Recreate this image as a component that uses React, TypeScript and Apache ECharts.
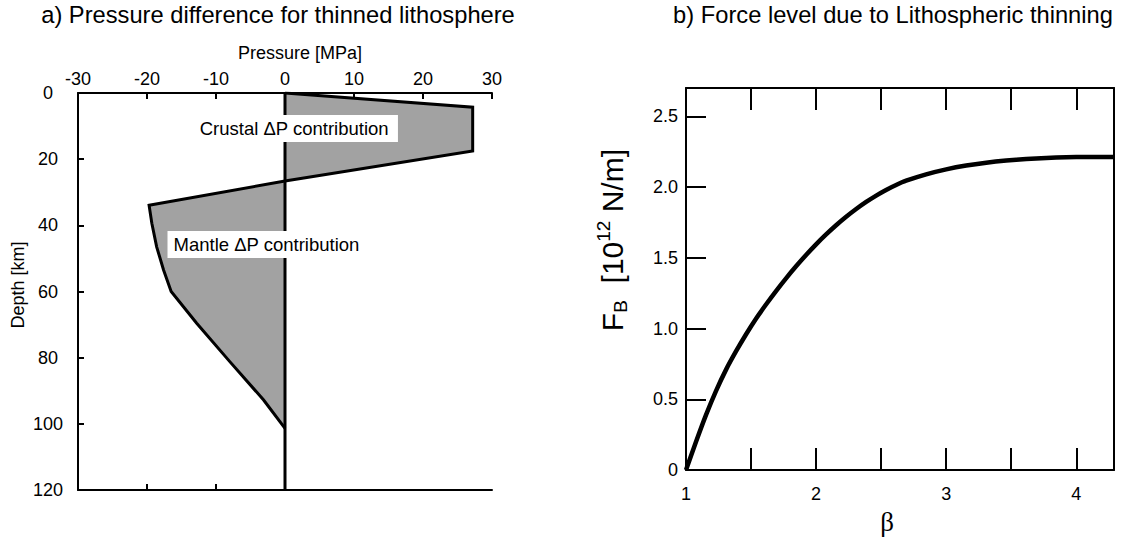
import React, { useEffect, useRef } from 'react';
import * as echarts from 'echarts';

// ---------- data ----------
// Panel a: pressure difference profile, [pressure MPa] vs [depth km]
const profilePressure = [0, 27.2, 27.2, 0, -19.7, -19.3, -18.6, -17.6, -16.5, -12.8, -8.0, -3.1, 0];
const profileDepth = [0, 4.3, 17.5, 26.6, 33.9, 39.4, 46.5, 53.5, 60.0, 69.6, 81.2, 92.8, 101.4];
const zeroLineDepth = [0, 120];
const zeroLinePressure = [0, 0];

// Panel b: force level vs beta
const beta = [
  1.0, 1.077, 1.154, 1.231, 1.308, 1.385, 1.462, 1.538, 1.615, 1.692, 1.769, 1.846, 1.923, 2.0, 2.077,
  2.154, 2.231, 2.308, 2.385, 2.462, 2.538, 2.615, 2.692, 2.846, 3.0, 3.154, 3.308, 3.462, 3.615, 3.769,
  3.923, 4.077, 4.29,
];
const forceLevel = [
  0, 0.2, 0.39, 0.56, 0.71, 0.84, 0.96, 1.07, 1.17, 1.265, 1.355, 1.44, 1.52, 1.595, 1.665, 1.73, 1.79,
  1.845, 1.895, 1.94, 1.98, 2.015, 2.045, 2.09, 2.125, 2.152, 2.172, 2.187, 2.198, 2.206, 2.211, 2.213,
  2.212,
];

// Annotation texts (anchored in data coordinates of panel a)
const annotationTexts = ['Crustal \u0394P contribution', 'Mantle \u0394P contribution'];
const annotationPressure = [-13.3, -17.1];
const annotationDepth = [10.7, 45.8];

const titleA = 'a) Pressure difference for thinned lithosphere';
const titleB = 'b) Force level due to Lithospheric thinning';

const FONT = '"Liberation Sans", Arial, Helvetica, sans-serif';
const BLACK = '#000';

export default function App() {
  const ref = useRef<HTMLDivElement>(null);

  useEffect(() => {
    if (!ref.current) return;
    const chart = echarts.init(ref.current, undefined, { renderer: 'svg' });

    const lineStyle = { color: BLACK, width: 2 };
    const profile = profilePressure.map((p, i) => [p, profileDepth[i]]);

    const option: any = {
      animation: false,
      backgroundColor: '#fff',
      textStyle: { fontFamily: FONT, color: BLACK },
      graphic: [
        {
          type: 'text',
          x: 278,
          y: 15,
          style: {
            text: titleA,
            fill: BLACK,
            font: `23.7px ${FONT}`,
            align: 'center',
            verticalAlign: 'middle',
            textAlign: 'center',
            textVerticalAlign: 'middle',
          },
        },
        {
          type: 'text',
          x: 893,
          y: 15,
          style: {
            text: titleB,
            fill: BLACK,
            font: `23.7px ${FONT}`,
            align: 'center',
            verticalAlign: 'middle',
            textAlign: 'center',
            textVerticalAlign: 'middle',
          },
        },
      ],
      grid: [
        { left: 78, top: 93, width: 414, height: 397, containLabel: false },
        { left: 686, top: 88, width: 428, height: 400, containLabel: false },
      ],
      xAxis: [
        {
          gridIndex: 0,
          type: 'value',
          position: 'top',
          min: -30,
          max: 30,
          interval: 10,
          axisLine: { show: true, onZero: false, lineStyle },
          axisTick: { show: true, inside: true, length: 6, lineStyle },
          axisLabel: { color: BLACK, fontSize: 18, margin: 5, fontFamily: FONT },
          splitLine: { show: false },
          name: 'Pressure [MPa]',
          nameLocation: 'middle',
          nameGap: 31,
          nameTextStyle: { color: BLACK, fontSize: 18, fontFamily: FONT, padding: [0, 0, 0, 30] },
        },
        {
          gridIndex: 0,
          type: 'value',
          position: 'bottom',
          min: -30,
          max: 30,
          interval: 10,
          axisLine: { show: true, onZero: false, lineStyle },
          axisTick: { show: true, inside: true, length: 6, lineStyle, customValues: [-20, -10] },
          axisLabel: { show: false },
          splitLine: { show: false },
        },
        {
          gridIndex: 1,
          type: 'value',
          position: 'bottom',
          min: 1,
          max: 4.29,
          interval: 0.5,
          axisLine: { show: true, onZero: false, lineStyle },
          axisTick: { show: true, inside: true, length: 22, lineStyle },
          axisLabel: {
            color: BLACK,
            fontSize: 18,
            margin: 15,
            fontFamily: FONT,
            showMaxLabel: false,
            formatter: (v: number) => (Math.abs(v - Math.round(v)) < 1e-6 ? String(Math.round(v)) : ''),
          },
          splitLine: { show: false },
          name: '\u03b2',
          nameLocation: 'middle',
          nameGap: 20,
          nameTextStyle: {
            color: BLACK,
            fontSize: 27,
            fontFamily: '"Liberation Serif", "DejaVu Serif", serif',
            padding: [0, 26, 0, 0],
          },
        },
        {
          gridIndex: 1,
          type: 'value',
          position: 'top',
          min: 1,
          max: 4.29,
          interval: 0.5,
          axisLine: { show: true, onZero: false, lineStyle },
          axisTick: { show: true, inside: true, length: 22, lineStyle },
          axisLabel: { show: false },
          splitLine: { show: false },
        },
      ],
      yAxis: [
        {
          gridIndex: 0,
          type: 'value',
          position: 'left',
          inverse: true,
          min: 0,
          max: 120,
          interval: 20,
          axisLine: { show: true, onZero: false, lineStyle },
          axisTick: { show: true, inside: true, length: 6, lineStyle },
          axisLabel: { color: BLACK, fontSize: 18, margin: 30, align: 'center', fontFamily: FONT },
          splitLine: { show: false },
          name: 'Depth [km]',
          nameLocation: 'middle',
          nameRotate: 90,
          nameGap: 51,
          nameTextStyle: { color: BLACK, fontSize: 18, fontFamily: FONT, padding: [0, 0, 0, 13] },
        },
        {
          gridIndex: 1,
          type: 'value',
          position: 'left',
          min: 0,
          max: 2.7,
          interval: 0.5,
          axisLine: { show: true, onZero: false, lineStyle },
          axisTick: { show: true, inside: true, length: 20, lineStyle },
          axisLabel: {
            color: BLACK,
            fontSize: 18,
            margin: 8,
            fontFamily: FONT,
            showMaxLabel: false,
            formatter: (v: number) => {
              if (Math.abs(v) < 1e-9) return '0';
              return Math.abs(v * 2 - Math.round(v * 2)) < 1e-6 ? v.toFixed(1) : '';
            },
          },
          splitLine: { show: false },
          name: '{f|F}{sub|B}{f|  [10}{sup|12}{f| N/m]}',
          nameLocation: 'middle',
          nameRotate: 90,
          nameGap: 56,
          nameTextStyle: {
            color: BLACK,
            fontFamily: FONT,
            fontSize: 30,
            padding: [0, 0, 0, 78],
            rich: {
              f: { fontSize: 30, lineHeight: 36, fontFamily: FONT, color: BLACK },
              sub: { fontSize: 19, lineHeight: 24, verticalAlign: 'bottom', fontFamily: FONT, color: BLACK },
              sup: { fontSize: 19, lineHeight: 19, verticalAlign: 'top', fontFamily: FONT, color: BLACK },
            },
          },
        },
        {
          gridIndex: 1,
          type: 'value',
          position: 'right',
          min: 0,
          max: 2.7,
          axisLine: { show: true, onZero: false, lineStyle },
          axisTick: { show: false },
          axisLabel: { show: false },
          splitLine: { show: false },
        },
      ],
      series: [
        {
          type: 'custom',
          xAxisIndex: 0,
          yAxisIndex: 0,
          silent: true,
          z: 1,
          data: profile,
          renderItem: (params: any, api: any) => {
            if (params.dataIndex !== 0) return { type: 'group', children: [] };
            const pts = profile.map((d) => api.coord(d));
            return {
              type: 'polygon',
              shape: { points: pts },
              style: { fill: '#a2a2a2', stroke: 'none' },
            };
          },
        },
        {
          type: 'line',
          xAxisIndex: 0,
          yAxisIndex: 0,
          z: 3,
          silent: true,
          showSymbol: false,
          symbol: 'none',
          data: profile,
          lineStyle: { color: BLACK, width: 3, join: 'miter' },
        },
        {
          type: 'line',
          xAxisIndex: 0,
          yAxisIndex: 0,
          z: 3,
          silent: true,
          showSymbol: false,
          symbol: 'none',
          data: zeroLinePressure.map((p, i) => [p, zeroLineDepth[i]]),
          lineStyle: { color: BLACK, width: 3 },
        },
        {
          type: 'scatter',
          xAxisIndex: 0,
          yAxisIndex: 0,
          z: 10,
          silent: true,
          symbolSize: 1,
          itemStyle: { color: 'rgba(0,0,0,0)', opacity: 1 },
          data: annotationTexts.map((t, i) => ({ name: t, value: [annotationPressure[i], annotationDepth[i]] })),
          label: {
            show: true,
            position: 'right',
            distance: 0,
            formatter: (p: any) => p.name,
            backgroundColor: '#fff',
            color: BLACK,
            opacity: 1,
            fontSize: 18.5,
            fontFamily: FONT,
            padding: [4, 9, 4, 6],
          },
        },
        {
          type: 'line',
          xAxisIndex: 2,
          yAxisIndex: 1,
          z: 3,
          silent: true,
          showSymbol: false,
          symbol: 'none',
          smooth: 0.2,
          data: beta.map((b, i) => [b, forceLevel[i]]),
          lineStyle: { color: BLACK, width: 4.5 },
        },
      ],
    };

    chart.setOption(option);
    return () => {
      chart.dispose();
    };
  }, []);

  return (
    <div
      ref={ref}
      style={{ position: 'fixed', left: 0, top: 0, width: 1128, height: 540, background: '#fff' }}
    />
  );
}
